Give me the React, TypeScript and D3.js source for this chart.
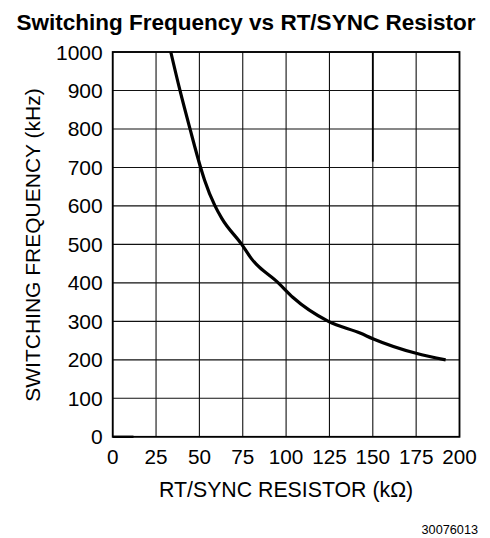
import React, { useEffect, useRef } from 'react';
import * as d3 from 'd3';

// resistor (kOhm) and switching frequency (kHz)
const resistorK = [33.5, 38.8, 44.6, 50.7, 53, 59, 63, 74.4, 80, 95.5, 104, 124.4, 143, 150, 175, 192];
const freqKHz = [1000, 900, 800, 700, 667, 600, 567, 500, 463, 400, 362, 300, 269, 255, 217, 200];

const xTicks = [0, 25, 50, 75, 100, 125, 150, 175, 200];
const yTicks = [0, 100, 200, 300, 400, 500, 600, 700, 800, 900, 1000];

const WIDTH = 490;
const HEIGHT = 538;
const FONT = '"Liberation Sans", Arial, Helvetica, sans-serif';

const App: React.FC = () => {
    const svgRef = useRef<SVGSVGElement | null>(null);

    useEffect(() => {
        const svg = d3.select(svgRef.current);
        svg.selectAll('*').remove();

        const left = 112.7, right = 459.5, top = 52, bottom = 436.8;

        const x = d3.scaleLinear().domain([0, 200]).range([left, right]);
        const y = d3.scaleLinear().domain([0, 1000]).range([bottom, top]);

        // Title
        svg.append('text')
            .attr('x', 246)
            .attr('y', 29.5)
            .attr('text-anchor', 'middle')
            .attr('font-family', FONT)
            .attr('font-weight', 'bold')
            .attr('font-size', 22.5)
            .attr('fill', '#000')
            .text('Switching Frequency vs RT/SYNC Resistor');

        // Grid lines
        const grid = svg.append('g').attr('stroke', '#111').attr('stroke-width', 1.1);
        grid.selectAll('.vgrid')
            .data(xTicks)
            .enter()
            .append('line')
            .attr('x1', d => x(d))
            .attr('x2', d => x(d))
            .attr('y1', top)
            .attr('y2', bottom);
        grid.selectAll('.hgrid')
            .data(yTicks)
            .enter()
            .append('line')
            .attr('x1', left)
            .attr('x2', right)
            .attr('y1', d => y(d))
            .attr('y2', d => y(d));

        // darker piece of the 150k grid line near the top
        svg.append('line')
            .attr('x1', x(150))
            .attr('x2', x(150))
            .attr('y1', y(1000))
            .attr('y2', y(715))
            .attr('stroke', '#000')
            .attr('stroke-width', 1.8);

        // Plot frame
        svg.append('rect')
            .attr('x', left)
            .attr('y', top)
            .attr('width', right - left)
            .attr('height', bottom - top)
            .attr('fill', 'none')
            .attr('stroke', '#000')
            .attr('stroke-width', 1.8);

        // little stub along the zero line
        svg.append('line')
            .attr('x1', x(0))
            .attr('x2', x(12))
            .attr('y1', y(0))
            .attr('y2', y(0))
            .attr('stroke', '#000')
            .attr('stroke-width', 2.4);

        // Y tick labels
        svg.selectAll('.ylabel')
            .data(yTicks)
            .enter()
            .append('text')
            .attr('x', left - 10)
            .attr('y', d => y(d) + 7.5)
            .attr('text-anchor', 'end')
            .attr('font-family', FONT)
            .attr('font-size', 21)
            .text(d => d);

        // X tick labels
        svg.selectAll('.xlabel')
            .data(xTicks)
            .enter()
            .append('text')
            .attr('x', d => x(d))
            .attr('y', 463.5)
            .attr('text-anchor', 'middle')
            .attr('font-family', FONT)
            .attr('font-size', 20.7)
            .text(d => d);

        // Axis titles
        svg.append('text')
            .attr('transform', 'translate(39.5, 245) rotate(-90)')
            .attr('text-anchor', 'middle')
            .attr('font-family', FONT)
            .attr('font-size', 21)
            .text('SWITCHING FREQUENCY (kHz)');

        svg.append('text')
            .attr('x', (left + right) / 2)
            .attr('y', 497)
            .attr('text-anchor', 'middle')
            .attr('font-family', FONT)
            .attr('font-size', 21.3)
            .text('RT/SYNC RESISTOR (kΩ)');

        // figure id
        svg.append('text')
            .attr('x', 478)
            .attr('y', 533.5)
            .attr('text-anchor', 'end')
            .attr('font-family', FONT)
            .attr('font-size', 12.7)
            .text('30076013');

        // Curve
        const points: [number, number][] = resistorK.map((r, i) => [r, freqKHz[i]]);
        const line = d3.line<[number, number]>()
            .x(d => x(d[0]))
            .y(d => y(d[1]))
            .curve(d3.curveMonotoneX);

        svg.append('path')
            .datum(points)
            .attr('fill', 'none')
            .attr('stroke', '#000')
            .attr('stroke-width', 3.2)
            .attr('stroke-linejoin', 'round')
            .attr('d', line);
    }, []);

    return (
        <svg
            ref={svgRef}
            width={WIDTH}
            height={HEIGHT}
            style={{ position: 'absolute', left: 0, top: 0, background: '#fff' }}
        />
    );
};

export default App;
